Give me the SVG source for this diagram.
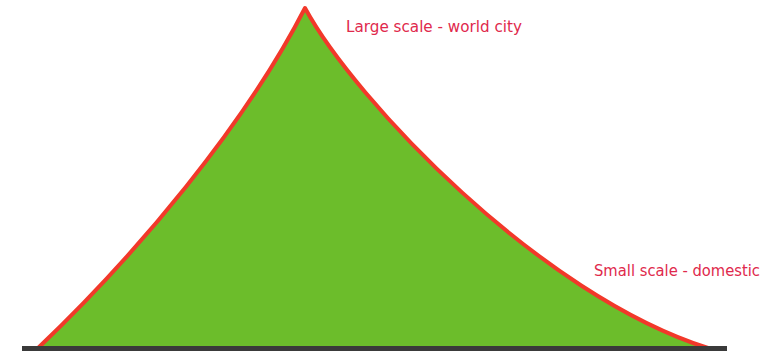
<svg xmlns="http://www.w3.org/2000/svg" width="773" height="356" viewBox="0 0 773 356">
<style>
.lbl{font-family:"DejaVu Sans","Liberation Sans",sans-serif;font-size:15px;fill:#e0294c}
.edge{fill:none;stroke:#f2382a;stroke-width:4;stroke-linejoin:round;stroke-linecap:round}
</style>
<rect width="773" height="356" fill="#ffffff"/>
<g id="peak">
<path fill="#6cbd2b" d="M37,349 C137,254 245,125 305,8 C355,100 540,295 708,348 Z"/>
<path class="edge" d="M37,349 C137,254 245,125 305,8 C355,100 540,295 708,348"/>
</g>
<g id="base">
<rect x="22" y="346" width="705" height="5" fill="#3a3a3a"/>
</g>
<g id="label-large">
<text class="lbl" x="346" y="32" textLength="176" lengthAdjust="spacingAndGlyphs">Large scale - world city</text>
</g>
<g id="label-small">
<text class="lbl" x="594" y="276" textLength="166" lengthAdjust="spacingAndGlyphs">Small scale - domestic</text>
</g>
</svg>
